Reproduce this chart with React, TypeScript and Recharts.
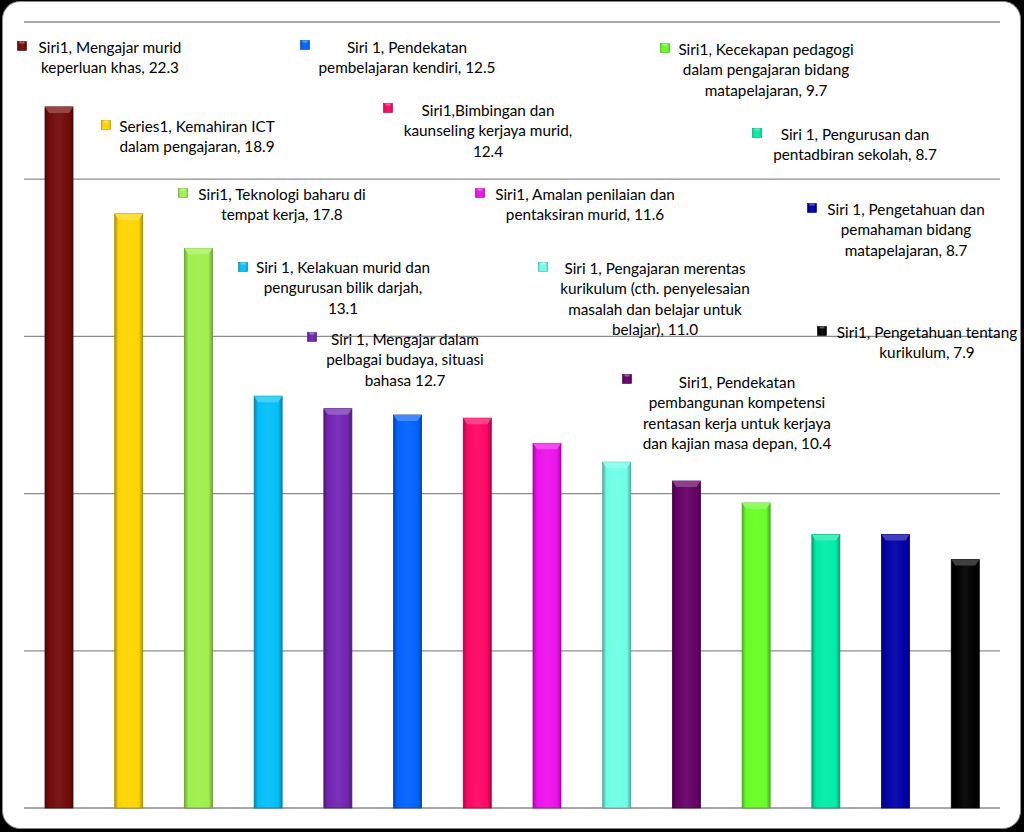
import React from "react";
import { Bar, BarChart, CartesianGrid, LabelList, XAxis, YAxis } from "recharts";

const categories = [
  "Mengajar murid keperluan khas",
  "Kemahiran ICT dalam pengajaran",
  "Teknologi baharu di tempat kerja",
  "Kelakuan murid dan pengurusan bilik darjah",
  "Mengajar dalam pelbagai budaya, situasi bahasa",
  "Pendekatan pembelajaran kendiri",
  "Bimbingan dan kaunseling kerjaya murid",
  "Amalan penilaian dan pentaksiran murid",
  "Pengajaran merentas kurikulum",
  "Pendekatan pembangunan kompetensi rentasan kerja",
  "Kecekapan pedagogi dalam pengajaran bidang matapelajaran",
  "Pengurusan dan pentadbiran sekolah",
  "Pengetahuan dan pemahaman bidang matapelajaran",
  "Pengetahuan tentang kurikulum",
];

const values = [22.3, 18.9, 17.8, 13.1, 12.7, 12.5, 12.4, 11.6, 11.0, 10.4, 9.7, 8.7, 8.7, 7.9];

const barColors = [
  "#720a0a", "#ffd400", "#9ef04c", "#00bff8", "#7224b2", "#0062ff", "#ff0564",
  "#ec12ec", "#6effe6", "#660066", "#66ff24", "#00eca8", "#0000a8", "#000000",
];

const labelLines = [
  ["Siri1, Mengajar murid", "keperluan khas, 22.3"],
  ["Series1, Kemahiran ICT", "dalam pengajaran, 18.9"],
  ["Siri1, Teknologi baharu di", "tempat kerja, 17.8"],
  ["Siri 1, Kelakuan murid dan", "pengurusan bilik darjah,", "13.1"],
  ["Siri 1, Mengajar dalam", "pelbagai budaya, situasi", "bahasa 12.7"],
  ["Siri 1, Pendekatan", "pembelajaran kendiri, 12.5"],
  ["Siri1,Bimbingan dan", "kaunseling kerjaya murid,", "12.4"],
  ["Siri1, Amalan penilaian dan", "pentaksiran murid, 11.6"],
  ["Siri 1, Pengajaran merentas", "kurikulum (cth. penyelesaian", "masalah dan belajar untuk", "belajar), 11.0"],
  ["Siri1, Pendekatan", "pembangunan kompetensi", "rentasan kerja untuk kerjaya", "dan kajian masa depan, 10.4"],
  ["Siri1, Kecekapan pedagogi", "dalam pengajaran bidang", "matapelajaran, 9.7"],
  ["Siri 1, Pengurusan dan", "pentadbiran sekolah, 8.7"],
  ["Siri 1, Pengetahuan dan", "pemahaman bidang", "matapelajaran, 8.7"],
  ["Siri1, Pengetahuan tentang", "kurikulum, 7.9"],
];

const yTicks = [0, 5, 10, 15, 20, 25];

// where the data labels were dragged to: marker x, marker y, text centre x, first line y
const labelSpots = [
  [22, 46, 110, 47],
  [106, 125, 197, 126],
  [183, 193, 282, 194],
  [243, 267, 343, 267],
  [312, 337, 405, 339],
  [305, 45, 407, 47],
  [388, 108, 488, 110],
  [480, 193, 585, 194],
  [543, 267, 655, 268],
  [627, 379, 737, 382],
  [665, 48, 766, 49],
  [757, 133, 855, 134],
  [812, 208, 906, 209],
  [822, 331, 927, 332],
];

const table = categories.map((name, i) => ({ name, value: values[i], i }));

const font = "Lato, 'Open Sans', sans-serif";

function mix(hex: string, to: string, t: number) {
  const a = parseInt(hex.slice(1), 16);
  const b = parseInt(to.slice(1), 16);
  const ch = (s: number) => {
    const x = (a >> s) & 255;
    const y = (b >> s) & 255;
    return Math.round(x + (y - x) * t);
  };
  return `rgb(${ch(16)},${ch(8)},${ch(0)})`;
}

function GlassBar(props: any) {
  const { x, y, width, height, payload } = props;
  const i = payload.i;
  const c = barColors[i];
  const b = Math.min(6, height);
  return (
    <g>
      <rect x={x} y={y} width={width} height={height} fill={`url(#bar${i})`} stroke={mix(c, "#000000", 0.35)} strokeWidth={0.8} />
      <polygon
        points={`${x},${y} ${x + width},${y} ${x + width - 4},${y + b} ${x + 4},${y + b}`}
        fill={mix(c, "#ffffff", 0.25)}
      />
    </g>
  );
}

function DataLabel(props: any) {
  const i = props.value as number;
  const [mx, my, cx, ly] = labelSpots[i];
  const c = barColors[i];
  return (
    <g>
      <rect x={mx - 4.5} y={my - 4.5} width={9} height={9} fill={`url(#bar${i})`} stroke={mix(c, "#000000", 0.3)} strokeWidth={0.6} />
      <rect x={mx - 2.5} y={my - 4.5} width={5} height={2} fill={mix(c, "#ffffff", 0.35)} />
      {labelLines[i].map((line, k) => (
        <text
          key={k}
          x={cx}
          y={ly + k * 20.4}
          textAnchor="middle"
          dominantBaseline="central"
          fontFamily={font}
          fontSize={15.3}
          fill="#000"
        >
          {line}
        </text>
      ))}
    </g>
  );
}

const NoTick = () => <g />;

export default function App() {
  return (
    <div style={{ position: "relative", width: 1024, height: 832, background: "#000", overflow: "hidden" }}>
      <style>{"body{margin:0}"}</style>
      <div
        style={{
          position: "absolute",
          left: 2,
          top: 1,
          width: 1017,
          height: 826,
          background: "#fff",
          border: "1px solid #8a8a8a",
          borderRadius: 18,
        }}
      />
      <div style={{ position: "absolute", left: 0, top: 0 }}>
        <BarChart width={1024} height={832} data={table} margin={{ top: 22, right: 24, bottom: 24, left: 24 }} barCategoryGap={0}>
          <defs>
            {barColors.map((c, i) => (
              <linearGradient key={i} id={`bar${i}`} x1="0" y1="0" x2="1" y2="0">
                <stop offset="0%" stopColor={mix(c, "#000000", 0.3)} />
                <stop offset="14%" stopColor={c} />
                <stop offset="50%" stopColor={mix(c, "#ffffff", 0.06)} />
                <stop offset="86%" stopColor={c} />
                <stop offset="100%" stopColor={mix(c, "#000000", 0.3)} />
              </linearGradient>
            ))}
          </defs>
          <CartesianGrid vertical={false} stroke="#8c8c8c" strokeWidth={1.3} />
          <XAxis dataKey="name" hide />
          <YAxis
            width={0}
            domain={[0, 25]}
            ticks={yTicks}
            tick={NoTick}
            axisLine={false}
            tickLine={false}
            label={{
              content: () => (
                <text
                  x={24}
                  y={151}
                  transform="rotate(-90 24 151)"
                  textAnchor="middle"
                  dominantBaseline="central"
                  fontFamily={font}
                  fontSize={19}
                  fill="#000"
                >
                  Peratus guru
                </text>
              ),
            }}
          />
          <Bar dataKey="value" barSize={28} shape={GlassBar} isAnimationActive={false}>
            <LabelList dataKey="i" content={DataLabel} />
          </Bar>
        </BarChart>
      </div>
    </div>
  );
}
